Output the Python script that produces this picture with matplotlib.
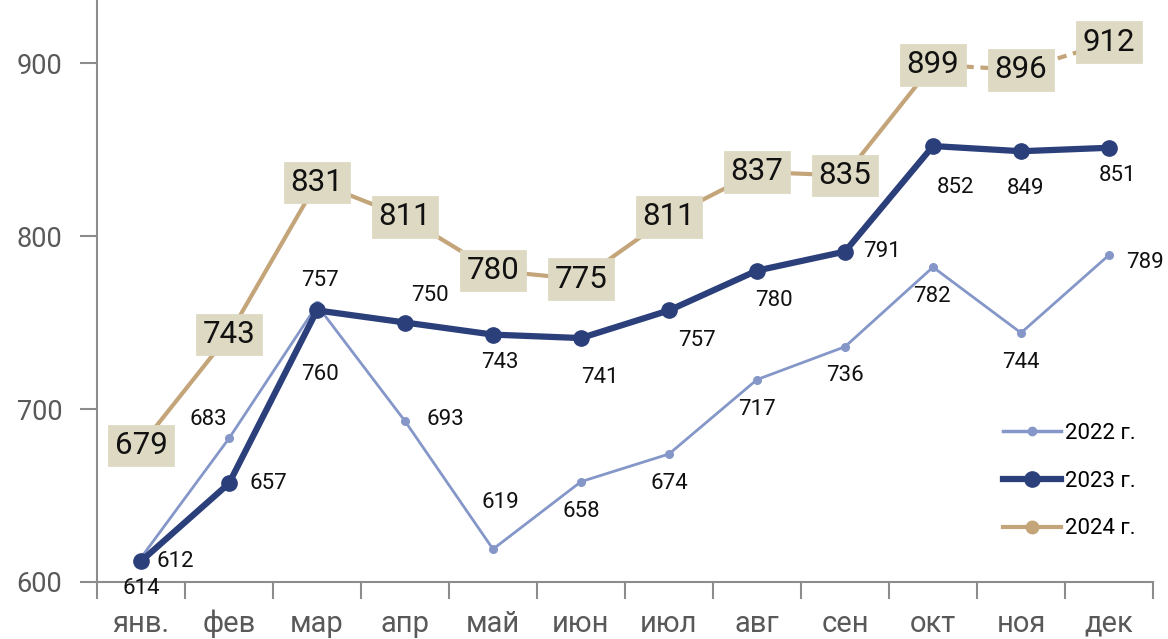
import matplotlib
matplotlib.use("Agg")
import matplotlib.pyplot as plt
from matplotlib.lines import Line2D
import numpy as np

plt.rcParams['font.family'] = ['Roboto', 'DejaVu Sans']

months = ["янв.", "фев", "мар", "апр", "май", "июн", "июл", "авг", "сен", "окт", "ноя", "дек"]
v2022 = [614, 683, 760, 693, 619, 658, 674, 717, 736, 782, 744, 789]
v2023 = [612, 657, 757, 750, 743, 741, 757, 780, 791, 852, 849, 851]
v2024 = [679, 743, 831, 811, 780, 775, 811, 837, 835, 899, 896, 912]
series_names = ["2022 г.", "2023 г.", "2024 г."]

# label offsets in pixels (dx, dy; dy positive = up)
off2022 = [(0, -31), (-21, 19), (3, -69), (40, 2), (7, 47), (0, -30), (0, -30),
           (0, -30), (0, -29), (-1, -29), (0, -30), (36, -7)]
off2023 = [(34, 0), (39, 0), (3, 30), (25, 27), (7, -28), (19, -39), (28, -30),
           (17, -30), (37, 0), (22, -41), (5, -37), (9, -28)]

c22 = "#8497c8"
c23 = "#2b3f7b"
c24 = "#c4a57a"
box = "#ddd9c3"

fig = plt.figure(figsize=(11.68, 6.39), dpi=100)
ax = fig.add_axes([97/1168, 57/639, (1153-97)/1168, 582/639])

x = np.arange(len(months))
ax.plot(x, v2022, color=c22, lw=2, marker='o', ms=5.5, zorder=3)
ax.plot(x, v2023, color=c23, lw=4.5, marker='o', ms=11, zorder=4)
ax.plot(x[:10], v2024[:10], color=c24, lw=3, marker='o', ms=9, zorder=2)
ax.plot(x[9:], v2024[9:], color=c24, lw=3, ls=(0, (2.2, 1.6)), zorder=2)

for i in range(len(months)):
    ax.annotate(str(v2022[i]), (x[i], v2022[i]), xytext=off2022[i], textcoords='offset pixels',
                ha='center', va='center', fontsize=16, color='#111111', zorder=6)
    ax.annotate(str(v2023[i]), (x[i], v2023[i]), xytext=off2023[i], textcoords='offset pixels',
                ha='center', va='center', fontsize=16, color='#111111', zorder=6)
    ax.annotate(str(v2024[i]), (x[i], v2024[i]), xytext=(0, 0), textcoords='offset pixels',
                ha='center', va='center', fontsize=22.5, color='#111111', zorder=7,
                bbox=dict(boxstyle='square,pad=0.17', fc=box, ec=box, lw=2))

ax.set_xlim(-0.5, len(months) - 0.5)
ax.set_ylim(600, 600 + 582/1.73)
ax.set_yticks([600, 700, 800, 900])
ax.set_xticks(x)
ax.set_xticklabels(months)
ax.set_xticks(np.arange(-0.5, len(months), 1), minor=True)
ax.tick_params(axis='x', which='major', length=0, pad=20, labelsize=21, labelcolor='#595959')
ax.tick_params(axis='x', which='minor', length=12, width=1.5, color='#8c8c8c', direction='out')
ax.tick_params(axis='y', length=12, width=1.5, color='#8c8c8c', pad=13, labelsize=19.5, labelcolor='#595959')
for s in ['top', 'right']:
    ax.spines[s].set_visible(False)
for s in ['left', 'bottom']:
    ax.spines[s].set_color('#8c8c8c')
    ax.spines[s].set_linewidth(1.5)

handles = [Line2D([], [], color=c22, lw=2.5, marker='o', ms=6),
           Line2D([], [], color=c23, lw=4.5, marker='o', ms=11),
           Line2D([], [], color=c24, lw=3, marker='o', ms=9)]
ax.legend(handles, series_names, loc='upper left', bbox_to_anchor=(983/1168, (639-403)/639),
          bbox_transform=fig.transFigure, frameon=False, fontsize=16, handlelength=2.6,
          labelspacing=1.2, handletextpad=0.2)

fig.savefig("out.png", dpi=100)
